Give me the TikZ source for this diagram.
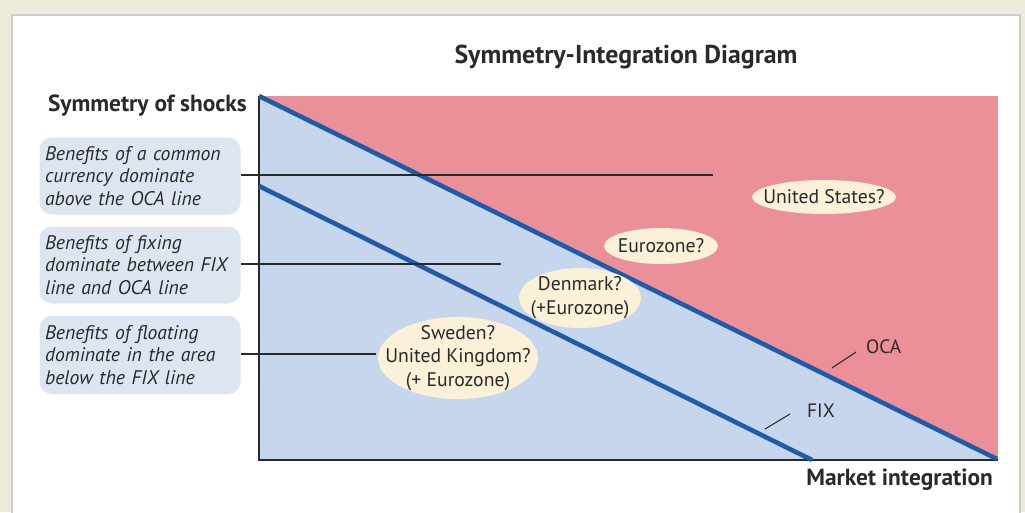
\documentclass[tikz,border=0pt]{standalone}
\usepackage{fontspec}
\setmainfont{PT Sans}
\definecolor{beige}{HTML}{EEEBDA}
\definecolor{pinkfill}{HTML}{EB8F99}
\definecolor{bluefill}{HTML}{C6D6ED}
\definecolor{blueline}{HTML}{1E5BAA}
\definecolor{ellfill}{HTML}{FBF0D8}
\definecolor{boxfill}{HTML}{DDE5F1}
\definecolor{txt}{HTML}{2A2A2A}
\tikzset{
  px/.style={x=0.02cm,y=-0.02cm},
  curve/.style={blueline,line width=2.6pt},
  leader/.style={draw=txt,line width=0.6pt},
  country/.style={text=txt,font=\fontsize{11.2}{13.5}\selectfont,align=center,inner sep=0pt},
  note/.style={rounded corners=7pt,fill=boxfill,text=txt,font=\fontsize{11.2}{13}\selectfont\itshape,align=left,minimum width=201*0.02cm,text width=190*0.02cm,inner ysep=0pt,inner xsep=4*0.02cm},
  axislabel/.style={text=txt,font=\fontsize{13.3}{15}\selectfont\bfseries},
}
\begin{document}
\begin{tikzpicture}[px]
\useasboundingbox (0,0) rectangle (1025,512);
\fill[beige] (0,0) rectangle (1025,512);
\fill[white,draw=gray!40,line width=0.8pt] (12,15) rectangle (1020,520);
% regions
\fill[pinkfill] (259,96) rectangle (998,460);
\coordinate (O) at (259,460);
\coordinate (Otop) at (259,96);
\coordinate (Oend) at (997,459);
\coordinate (Ftop) at (259,186);
\coordinate (Fend) at (812,460);
\coordinate (Xend) at (998,460);
\fill[bluefill] (Otop) -- (Oend) -- (Xend) -- (O) -- cycle;
% axes
\draw[txt,line width=0.9pt] (Otop) -- (O) -- (Xend);
% curves
\draw[curve] (Otop) -- (Oend);
\draw[curve] (Ftop) -- (Fend);
% title & axis labels
\node[text=txt,font=\fontsize{14.7}{16}\selectfont\bfseries] (title) at (626,57) {Symmetry-Integration Diagram};
\node[axislabel,anchor=east] (ylab) at (253,106) {Symmetry of shocks};
\node[axislabel,anchor=east] (xlab) at (999,480) {Market integration};
% notes
\node[note,minimum height=77*0.02cm] (n1) at (140,176) {Benefits of a common\\currency dominate\\above the OCA line};
\node[note,minimum height=77*0.02cm] (n2) at (140,265) {Benefits of fixing\\dominate between FIX\\line and OCA line};
\node[note,minimum height=78*0.02cm] (n3) at (140,355) {Benefits of floating\\dominate in the area\\below the FIX line};
\coordinate (l1) at (713,175);
\coordinate (l2) at (501,264);
% countries
\fill[ellfill] (824,197) ellipse [x radius=72, y radius=17];
\fill[ellfill] (661,246) ellipse [x radius=57, y radius=18];
\fill[ellfill] (580,298) ellipse [x radius=61, y radius=30];
\fill[ellfill] (458,358) ellipse [x radius=80, y radius=41];
\node[country] (us) at (824,197) {United States?};
\node[country] (ez) at (661,246) {Eurozone?};
\node[country] (dk) at (580,298) {Denmark?\\(+Eurozone)};
\node[country] (se) at (458,358) {Sweden?\\United Kingdom?\\(+ Eurozone)};
\coordinate (sew) at (376,354);
% leaders
\draw[leader] (n1.east |- 0,175) -- (l1);
\draw[leader] (n2.east |- 0,264) -- (l2);
\draw[leader] (n3.east |- 0,354) -- (sew);
% line labels
\node[text=txt,font=\fontsize{11}{13}\selectfont,anchor=west] (oca) at (860,347) {OCA};
\node[text=txt,font=\fontsize{11}{13}\selectfont,anchor=west] (fix) at (801,411) {FIX};
\coordinate (ot) at (832,368);
\coordinate (ft) at (765,429);
\draw[leader] (ot) -- (856,352);
\draw[leader] (ft) -- (790,414);
\end{tikzpicture}
\end{document}
